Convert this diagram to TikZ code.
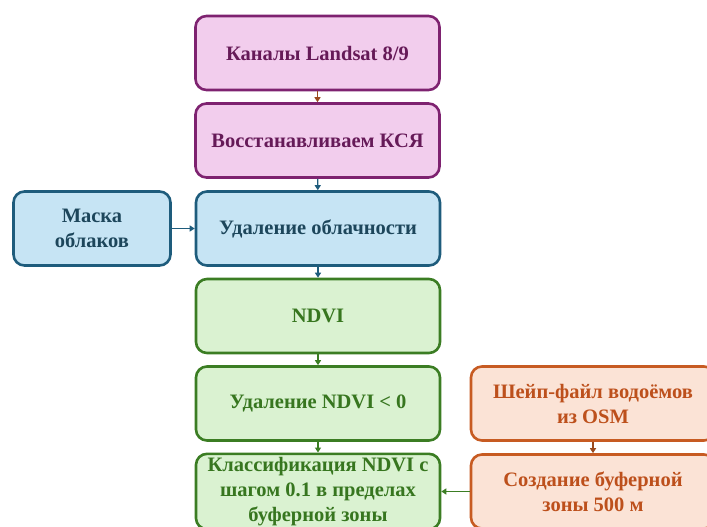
\documentclass[tikz,border=0pt]{standalone}
\usepackage{fontspec}
\setmainfont{Liberation Serif}
\usepackage{tikz}
\usetikzlibrary{arrows.meta}

\definecolor{purpFill}{HTML}{F2CDED}
\definecolor{purpLine}{HTML}{7E2270}
\definecolor{purpText}{HTML}{661A58}
\definecolor{blueFill}{HTML}{C6E4F4}
\definecolor{blueLine}{HTML}{1E5C7C}
\definecolor{blueText}{HTML}{1D465B}
\definecolor{grnFill}{HTML}{DAF2D1}
\definecolor{grnLine}{HTML}{3B7D23}
\definecolor{grnText}{HTML}{37761F}
\definecolor{orgFill}{HTML}{FBE3D6}
\definecolor{orgLine}{HTML}{C75B22}
\definecolor{orgText}{HTML}{BD501C}
\definecolor{brownArr}{HTML}{9A4A1E}

\tikzset{
  box/.style={rectangle, rounded corners=11pt, line width=2.6pt,
    minimum width=244pt, minimum height=74pt, align=center,
    font=\bfseries\fontsize{20.5}{25}\selectfont},
  purpbox/.style={box, draw=purpLine, fill=purpFill, text=purpText},
  bluebox/.style={box, draw=blueLine, fill=blueFill, text=blueText},
  grnbox/.style={box, draw=grnLine, fill=grnFill, text=grnText},
  orgbox/.style={box, draw=orgLine, fill=orgFill, text=orgText},
  arr/.style={line width=1.4pt, -{Triangle[length=5pt,width=6pt]}}
}

\begin{document}
\begin{tikzpicture}[x=1pt, y=-1pt]
  \useasboundingbox (0,0) rectangle (707,527);
  \clip (0,0) rectangle (707,527);
  % main column
  \node[purpbox] (kanaly)  at (317.5, 53)  {Каналы Landsat 8/9};
  \node[purpbox] (ksya)    at (317.5,140.5) {Восстанавливаем КСЯ};
  \node[bluebox] (oblach)  at (318,228.5)  {Удаление облачности};
  \node[grnbox]  (ndvi)    at (318,316)    {NDVI};
  \node[grnbox]  (udal)    at (318,403.5)  {Удаление NDVI < 0};
  \node[grnbox]  (klass)   at (318,491.5)  {Классификация NDVI с\\шагом 0.1 в пределах\\буферной зоны};
  % side boxes
  \node[bluebox, minimum width=157pt] (maska) at (92,228.5) {Маска\\облаков};
  \node[orgbox]  (shape)   at (593,403.5)  {Шейп-файл водоёмов\\из OSM};
  \node[orgbox]  (buffer)  at (593,491.5)  {Создание буферной\\зоны 500 м};

  \draw[arr, brownArr] (kanaly) -- (ksya);
  \draw[arr, blueLine] (ksya) -- (oblach);
  \draw[arr, blueLine] (oblach) -- (ndvi);
  \draw[arr, grnLine]  (ndvi) -- (udal);
  \draw[arr, grnLine]  (udal) -- (klass);
  \draw[arr, blueLine] (maska) -- (oblach);
  \draw[arr, brownArr] (shape) -- (buffer);
  \draw[arr, grnLine]  (buffer) -- (klass);
\end{tikzpicture}
\end{document}
